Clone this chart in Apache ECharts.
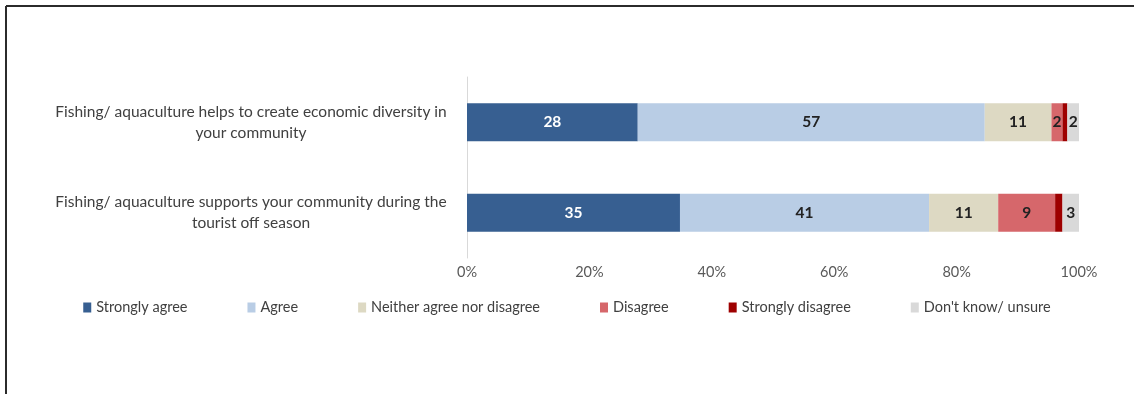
<!DOCTYPE html>
<html>
<head>
<meta charset="utf-8">
<script src="https://cdn.jsdelivr.net/npm/echarts@6/dist/echarts.min.js"></script>
<style>
  html, body { margin: 0; padding: 0; background: #fff; }
  #chart { width: 1134px; height: 394px; }
</style>
</head>
<body>
<div id="chart"></div>
<script>
// Survey statements (top to bottom)
const categories = [
  'Fishing/ aquaculture helps to create economic diversity in\nyour community',
  'Fishing/ aquaculture supports your community during the\ntourist off season'
];

// Response shares (%) per statement
const responseNames = [
  'Strongly agree', 'Agree', 'Neither agree nor disagree',
  'Disagree', 'Strongly disagree', "Don't know/ unsure"
];
const stronglyAgree    = [27.9, 34.8];
const agree            = [56.7, 40.7];
const neither          = [10.9, 11.3];
const disagree         = [1.8, 9.3];
const stronglyDisagree = [0.8, 1.2];
const dontKnow         = [1.9, 2.7];

const xTicks = [0, 20, 40, 60, 80, 100];

const seriesValues = [stronglyAgree, agree, neither, disagree, stronglyDisagree, dontKnow];
const colors = ['#375f91', '#b9cde5', '#ddd9c3', '#d6676b', '#9e0000', '#d9d9d9'];
const labelColors = ['#ffffff', '#222222', '#222222', '#222222', '#222222', '#222222'];
// shares too thin to carry a number are left unlabelled
const showLabel = [true, true, true, true, false, true];

const font = 'Lato, "Open Sans", sans-serif';

const chart = echarts.init(document.getElementById('chart'));

chart.setOption({
  animation: false,
  textStyle: { fontFamily: font },
  graphic: [
    { type: 'line', shape: { x1: 6, y1: 6, x2: 1134, y2: 6 }, style: { stroke: '#2b2b2b', lineWidth: 2 } },
    { type: 'line', shape: { x1: 6, y1: 6, x2: 6, y2: 394 }, style: { stroke: '#2b2b2b', lineWidth: 2 } }
  ],
  legend: {
    data: responseNames,
    left: 'center',
    top: 295,
    icon: 'rect',
    itemWidth: 8,
    itemHeight: 10,
    itemGap: 60,
    textStyle: { fontFamily: font, fontSize: 14.5, color: '#404040' }
  },
  grid: { left: 467, right: 55, top: 77, bottom: 136 },
  xAxis: {
    type: 'value',
    min: 0,
    max: 100,
    interval: 20,
    axisLine: { show: false },
    axisTick: { show: false },
    splitLine: { show: false },
    axisLabel: {
      margin: 7,
      fontSize: 14.5,
      color: '#595959',
      fontFamily: font,
      customValues: xTicks,
      formatter: v => v + '%'
    }
  },
  yAxis: {
    type: 'category',
    inverse: true,
    data: categories,
    axisLine: { show: true, lineStyle: { color: '#d9d9d9', width: 1 } },
    axisTick: { show: false },
    axisLabel: {
      align: 'center',
      margin: 216,
      fontSize: 15.5,
      lineHeight: 21,
      color: '#404040',
      fontFamily: font
    }
  },
  series: responseNames.map((name, i) => ({
    name: name,
    type: 'bar',
    stack: 'total',
    barWidth: 38,
    data: seriesValues[i],
    itemStyle: { color: colors[i] },
    label: {
      show: showLabel[i],
      position: 'inside',
      color: labelColors[i],
      fontFamily: font,
      fontSize: 15.5,
      fontWeight: 'bold',
      formatter: p => Math.round(p.value)
    }
  }))
});
</script>
</body>
</html>
